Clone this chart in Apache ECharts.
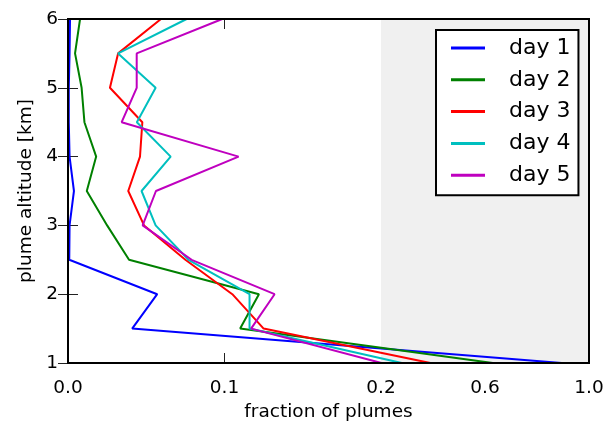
<!DOCTYPE html>
<html>
<head>
<meta charset="utf-8">
<script src="https://cdn.jsdelivr.net/npm/echarts@6/dist/echarts.min.js"></script>
<style>html,body{margin:0;padding:0;background:#fff}#c{width:616px;height:424px}</style>
</head>
<body>
<div id="c"></div>
<script>
// altitude levels [km]
const altitudes = [1, 1.5, 2, 2.5, 3, 3.5, 4, 4.5, 5, 5.5, 6];
// fraction of plumes per altitude, per day
const day1 = [0.895, 0.041, 0.057, 0.0008, 0.0010, 0.0038, 0.0010, 0.0005, 0.0005, 0.0010, 0.0013];
const day2 = [0.63, 0.110, 0.122, 0.039, 0.025, 0.012, 0.018, 0.0105, 0.0087, 0.0045, 0.0077];
const day3 = [0.39, 0.125, 0.105, 0.075, 0.0486, 0.0385, 0.046, 0.0475, 0.0268, 0.032, 0.0594];
const day4 = [0.28, 0.116, 0.116, 0.077, 0.056, 0.047, 0.0656, 0.044, 0.056, 0.032, 0.0758];
const day5 = [0.202, 0.117, 0.132, 0.079, 0.0477, 0.0562, 0.109, 0.0343, 0.0439, 0.0439, 0.0986];
const seriesNames = ['day 1', 'day 2', 'day 3', 'day 4', 'day 5'];
const xTickValues = [0.0, 0.1, 0.2, 0.6, 1.0];
const yTickValues = [1, 2, 3, 4, 5, 6];

// broken x scale: linear 0..0.2, compressed 0.2..1.0
const BREAK = 0.2;
const K = 260 / 1565;
const fwd = v => v <= BREAK ? v : BREAK + (v - BREAK) * K;
const inv = u => u <= BREAK + 1e-12 ? u : BREAK + (u - BREAK) / K;
const XMAX = fwd(1.0);

const colors = ['#0000ff', '#008000', '#ff0000', '#00bfbf', '#bf00bf'];
const allDays = [day1, day2, day3, day4, day5];
const FONT = 'DejaVu Sans';

const tickCommon = { show: true, inside: true, length: 10, lineStyle: { color: '#222', width: 1 } };

const series = allDays.map((d, i) => ({
  name: seriesNames[i],
  type: 'line',
  data: d.map((v, j) => [fwd(v), altitudes[j]]),
  symbol: 'none',
  lineStyle: { color: colors[i], width: 2 },
  itemStyle: { color: colors[i] },
  z: 3,
  animation: false
}));
series.unshift({
  name: 'shade',
  type: 'line',
  data: [],
  z: 1,
  silent: true,
  markArea: {
    silent: true,
    itemStyle: { color: '#f0f0f0' },
    data: [[{ xAxis: BREAK, yAxis: 1 }, { xAxis: XMAX, yAxis: 6 }]]
  }
});

const chart = echarts.init(document.getElementById('c'), null, { renderer: 'canvas' });
chart.setOption({
  animation: false,
  grid: { left: 68, right: 27, top: 19, bottom: 61, show: true, borderColor: '#000', borderWidth: 2, z: 10, outerBoundsMode: 'none' },
  legend: {
    data: seriesNames,
    left: 436, top: 30,
    orient: 'vertical',
    backgroundColor: '#fff',
    borderColor: '#000',
    borderWidth: 2,
    borderRadius: 0,
    padding: [7, 8, 9, 15],
    itemWidth: 34,
    itemHeight: 3,
    itemGap: 9.8,
    icon: 'rect',
    z: 20,
    formatter: n => '{t|' + n + '}',
    textStyle: {
      rich: { t: { fontFamily: FONT, fontSize: 22, color: '#000', padding: [0, 0, 0, 19], lineHeight: 22 } }
    }
  },
  xAxis: [{
    type: 'value', min: 0, max: XMAX, position: 'bottom',
    name: 'fraction of plumes', nameLocation: 'middle', nameGap: 38,
    nameTextStyle: { fontFamily: FONT, fontSize: 18.5, color: '#000' },
    splitLine: { show: false },
    axisLine: { show: false },
    axisTick: Object.assign({ customValues: xTickValues.map(fwd) }, tickCommon),
    axisLabel: { customValues: xTickValues.map(fwd), formatter: v => inv(v).toFixed(1), fontFamily: FONT, fontSize: 18.5, color: '#000', margin: 16 }
  }, {
    type: 'value', min: 0, max: XMAX, position: 'top',
    splitLine: { show: false }, axisLine: { show: false },
    axisTick: Object.assign({ customValues: xTickValues.map(fwd) }, tickCommon),
    axisLabel: { show: false }
  }],
  yAxis: [{
    type: 'value', min: 1, max: 6, interval: 1, position: 'left',
    name: 'plume altitude [km]', nameLocation: 'middle', nameGap: 32,
    nameTextStyle: { fontFamily: FONT, fontSize: 18.5, color: '#000' },
    splitLine: { show: false }, axisLine: { show: false },
    axisTick: tickCommon,
    axisLabel: { fontFamily: FONT, fontSize: 18.5, color: '#000', margin: 10 }
  }, {
    type: 'value', min: 1, max: 6, interval: 1, position: 'right',
    splitLine: { show: false }, axisLine: { show: false },
    axisTick: tickCommon,
    axisLabel: { show: false }
  }],
  series: series
});
</script>
</body>
</html>
